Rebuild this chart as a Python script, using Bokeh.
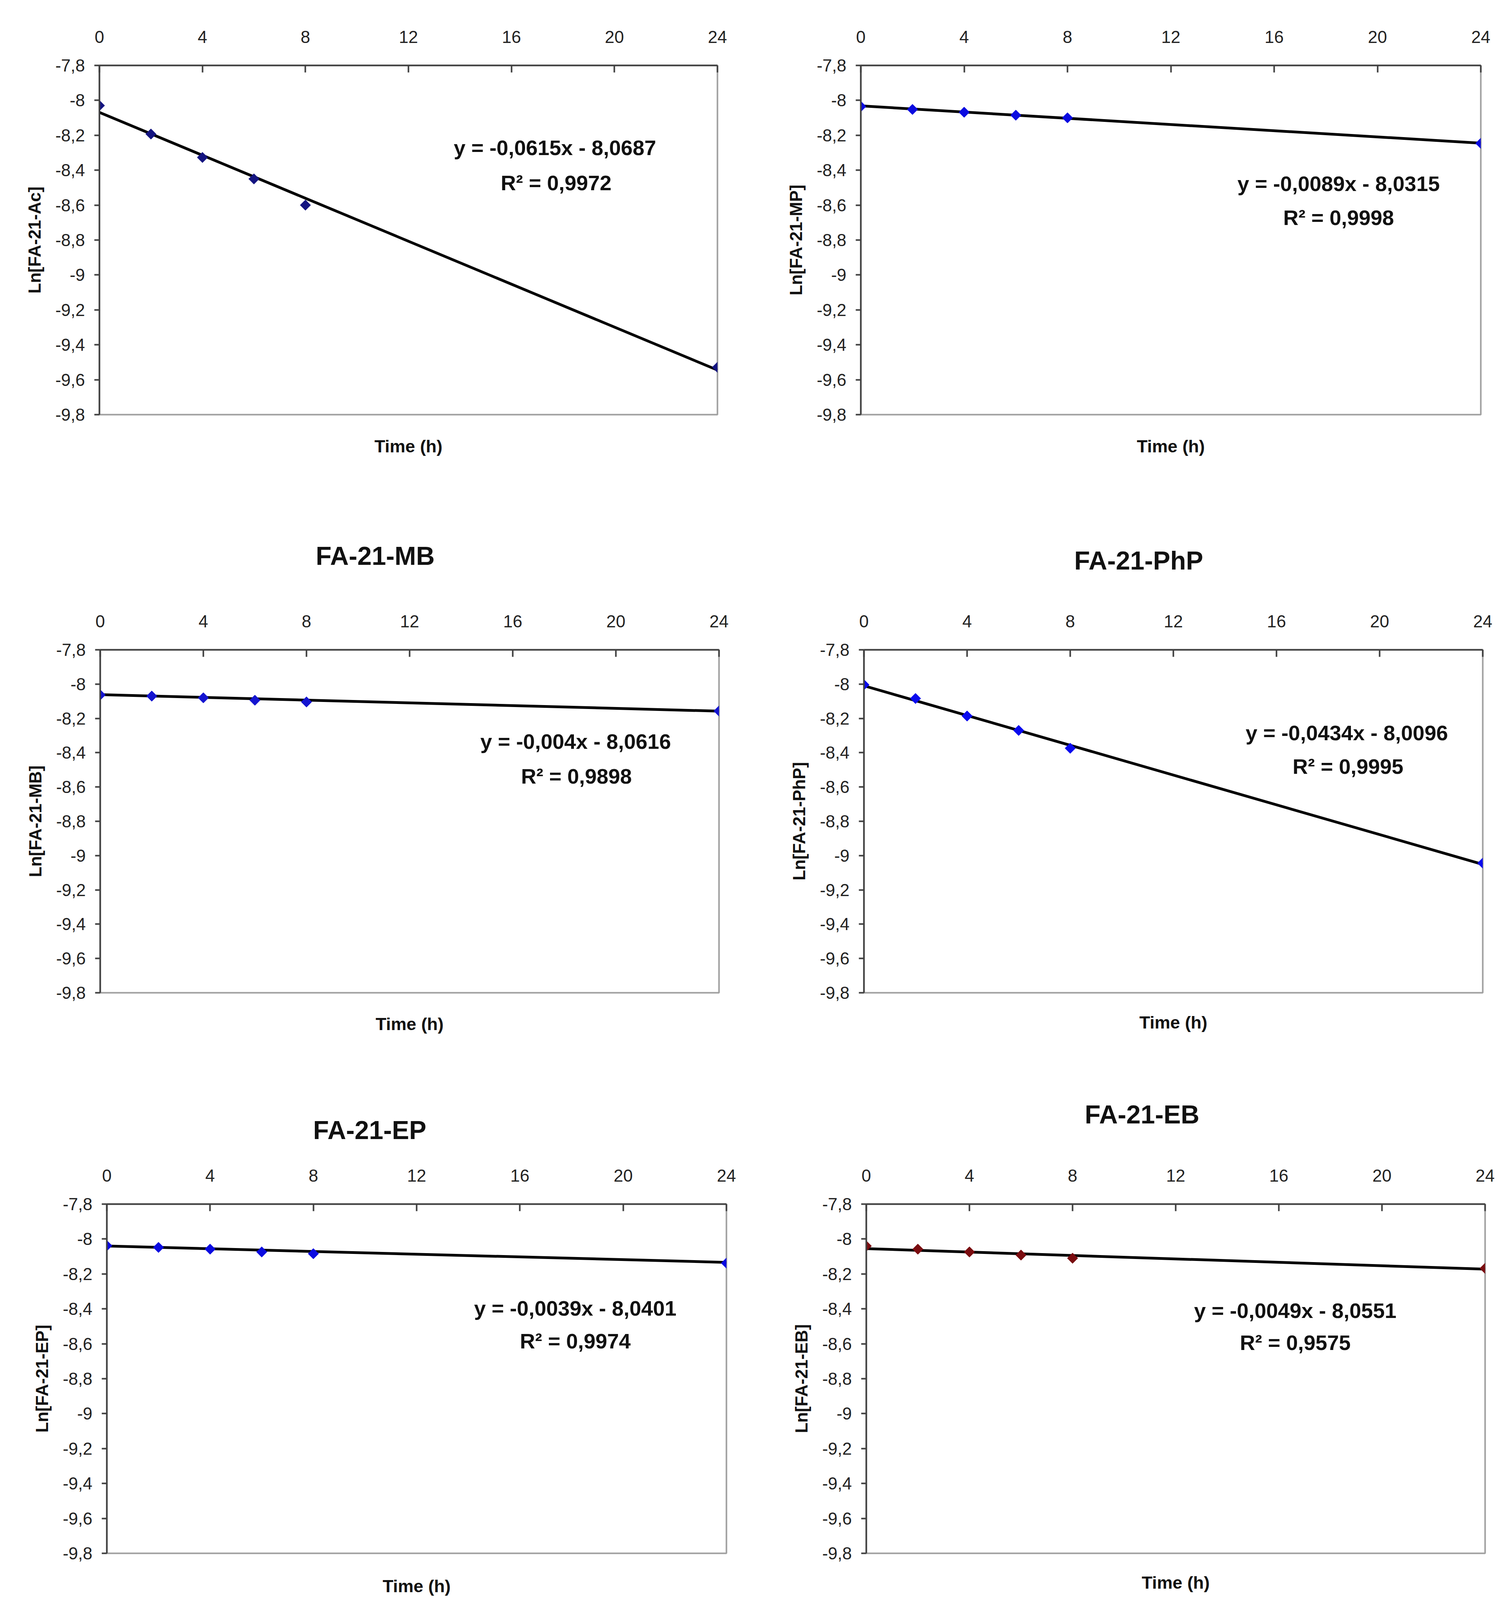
import math
from bokeh.plotting import figure
from bokeh.models import (Range1d, FixedTicker, CustomJSTickFormatter, Label,
                          LinearAxis, Title)
from bokeh.layouts import column, row
from bokeh.embed import file_html
from bokeh.resources import INLINE

# ---------------- data ----------------
time_h = [0, 2, 4, 6, 8, 24]

ln_ac = [-8.030, -8.193, -8.327, -8.450, -8.600, -9.529]
ln_mp = [-8.035, -8.052, -8.068, -8.085, -8.100, -8.246]
ln_mb = [-8.063, -8.070, -8.080, -8.094, -8.104, -8.157]
ln_php = [-8.004, -8.084, -8.186, -8.270, -8.374, -9.044]
ln_ep = [-8.038, -8.048, -8.058, -8.074, -8.084, -8.138]
ln_eb = [-8.040, -8.058, -8.074, -8.092, -8.110, -8.168]

compounds = ["FA-21-Ac", "FA-21-MP", "FA-21-MB", "FA-21-PhP", "FA-21-EP", "FA-21-EB"]
titles = [None, None, "FA-21-MB", "FA-21-PhP", "FA-21-EP", "FA-21-EB"]
slopes = [-0.0615, -0.0089, -0.004, -0.0434, -0.0039, -0.0049]
intercepts = [-8.0687, -8.0315, -8.0616, -8.0096, -8.0401, -8.0551]
r_squared = [0.9972, 0.9998, 0.9898, 0.9995, 0.9974, 0.9575]
series = [ln_ac, ln_mp, ln_mb, ln_php, ln_ep, ln_eb]

x_ticks = [0, 4, 8, 12, 16, 20, 24]
y_ticks = [-7.8, -8.0, -8.2, -8.4, -8.6, -8.8, -9.0, -9.2, -9.4, -9.6, -9.8]
X_MIN, X_MAX = 0, 24
Y_MIN, Y_MAX = -9.8, -7.8

marker_colors = ["#141480", "#0a0ae0", "#1414d0", "#0a0aee", "#0a0ae0", "#7a0c10"]

# ---------------- layout (page pixels) ----------------
panels = [
    dict(frame=(254, 167, 1836, 1061), origin=(0, 0), size=(1928, 1250),
         title=None, eq=(1420, 377), r2=(1423, 467), time_gap=81),
    dict(frame=(2203, 167, 3790, 1061), origin=(1928, 0), size=(1920, 1250),
         title=None, eq=(3426, 469), r2=(3426, 556), time_gap=81),
    dict(frame=(256, 1651, 1840, 2541), origin=(0, 1250), size=(1928, 1440),
         title=(958, 1412), eq=(1473, 1889), r2=(1475, 1979), time_gap=80),
    dict(frame=(2211, 1663, 3795, 2559), origin=(1928, 1250), size=(1920, 1440),
         title=(2912, 1436), eq=(3447, 1880), r2=(3450, 1968), time_gap=76),
    dict(frame=(273, 3079, 1859, 3976), origin=(0, 2690), size=(1928, 1410),
         title=(944, 2891), eq=(1472, 3346), r2=(1472, 3431), time_gap=84),
    dict(frame=(2217, 3082, 3801, 3979), origin=(1928, 2690), size=(1920, 1410),
         title=(2921, 2854), eq=(3315, 3355), r2=(3315, 3438), time_gap=75),
]

FONT = "Liberation Sans"
TITLE_PX = 66
TITLE_BASE_GAP = 127   # title centre above frame top when its standoff is 0

# approximate Arial/Liberation Sans Bold advance widths (em)
BOLD_W = {"F": .611, "A": .722, "-": .333, "2": .556, "1": .556, "M": .833,
          "B": .722, "P": .667, "h": .611, "E": .667}


def text_width(s, px):
    return sum(BOLD_W.get(c, .6) for c in s) * px * 0.975


def num(v):
    return str(v).replace(".", ",")


def make_panel(i):
    cfg = panels[i]
    L, T, R, B = cfg["frame"]
    ox, oy = cfg["origin"]
    W, H = cfg["size"]
    p = figure(
        width=W, height=H,
        x_range=Range1d(X_MIN, X_MAX), y_range=Range1d(Y_MIN, Y_MAX),
        x_axis_location="above",
        output_backend="svg", toolbar_location=None,
        min_border_left=L - ox, min_border_right=W - (R - ox),
        min_border_top=T - oy, min_border_bottom=H - (B - oy),
    )
    p.xgrid.visible = False
    p.ygrid.visible = False
    p.outline_line_color = "#a0a0a0"
    p.outline_line_width = 4
    p.background_fill_color = "white"
    p.border_fill_color = "white"

    def to_data(px, py):
        x = X_MIN + (px - L) / (R - L) * (X_MAX - X_MIN)
        y = Y_MAX - (py - T) / (B - T) * (Y_MAX - Y_MIN)
        return x, y

    # x axis (top)
    xa = p.xaxis[0]
    xa.ticker = FixedTicker(ticks=x_ticks)
    xa.major_tick_in = 18
    xa.major_tick_out = 0
    xa.minor_tick_in = 0
    xa.minor_tick_out = 0
    xa.major_label_standoff = 58
    xa.major_label_text_font = FONT
    xa.major_label_text_font_size = "44px"
    xa.major_label_text_color = "#222222"
    xa.axis_line_color = "#404040"
    xa.axis_line_width = 4
    xa.major_tick_line_color = "#404040"
    xa.major_tick_line_width = 4

    # x axis title below the frame (axis without ticks)
    bx = LinearAxis(ticker=FixedTicker(ticks=[]), axis_label="Time (h)",
                    axis_line_color=None, major_tick_line_color=None,
                    minor_tick_line_color=None, major_tick_in=0, major_tick_out=0,
                    minor_tick_in=0, minor_tick_out=0, major_label_standoff=0,
                    axis_label_standoff=cfg["time_gap"] - 26,
                    axis_label_text_font=FONT, axis_label_text_font_size="45px",
                    axis_label_text_font_style="bold",
                    axis_label_text_color="#111111")
    p.add_layout(bx, "below")

    # y axis (left)
    ya = p.yaxis[0]
    ya.ticker = FixedTicker(ticks=y_ticks)
    ya.formatter = CustomJSTickFormatter(
        code="var s = (Math.round(tick*10)/10).toString(); return s.replace('.', ',');")
    ya.major_tick_in = 0
    ya.major_tick_out = 13
    ya.minor_tick_in = 0
    ya.minor_tick_out = 0
    ya.major_label_standoff = 24
    ya.major_label_text_font = FONT
    ya.major_label_text_font_size = "44px"
    ya.major_label_text_color = "#222222"
    ya.axis_line_color = "#404040"
    ya.axis_line_width = 4
    ya.major_tick_line_color = "#404040"
    ya.major_tick_line_width = 4
    ya.axis_label = "Ln[" + compounds[i] + "]"
    ya.axis_label_text_font = FONT
    ya.axis_label_text_font_size = "44px"
    ya.axis_label_text_font_style = "bold"
    ya.axis_label_text_color = "#111111"
    ya.axis_label_standoff = 26

    # trend line from fit coefficients
    xs_fit = [X_MIN, X_MAX]
    ys_fit = [slopes[i] * xv + intercepts[i] for xv in xs_fit]
    p.line(xs_fit, ys_fit, line_color="black", line_width=7)

    # data points (diamonds)
    p.scatter(time_h, series[i], marker="square", angle=math.pi / 4, size=19,
              fill_color=marker_colors[i], line_color=marker_colors[i])

    # equation and R^2
    eq_text = "y = " + num(slopes[i]) + "x - " + num(-intercepts[i])
    r2_text = "R\u00b2 = " + num(r_squared[i])
    ex, ey = to_data(*cfg["eq"])
    p.add_layout(Label(x=ex, y=ey, text=eq_text, text_align="center",
                       text_baseline="middle", text_font=FONT,
                       text_font_size="54px", text_font_style="bold",
                       text_color="#111111"))
    rx, ry = to_data(*cfg["r2"])
    p.add_layout(Label(x=rx, y=ry, text=r2_text, text_align="center",
                       text_baseline="middle", text_font=FONT,
                       text_font_size="54px", text_font_style="bold",
                       text_color="#111111"))

    # chart title
    if titles[i] is not None and cfg["title"] is not None:
        tx, ty = cfg["title"]
        gap = T - ty
        standoff = max(0, 2 * (gap - TITLE_BASE_GAP))
        left_edge = tx - text_width(titles[i], TITLE_PX) / 2
        p.title = Title(text=titles[i], align="left",
                        offset=left_edge - L, standoff=standoff,
                        text_font=FONT, text_font_size=f"{TITLE_PX}px",
                        text_font_style="bold", text_color="#111111")
    return p


figs = [make_panel(i) for i in range(6)]
layout = column(
    row(figs[0], figs[1], spacing=0),
    row(figs[2], figs[3], spacing=0),
    row(figs[4], figs[5], spacing=0),
    spacing=0,
)

open("out.html", "w").write(file_html(layout, INLINE))
